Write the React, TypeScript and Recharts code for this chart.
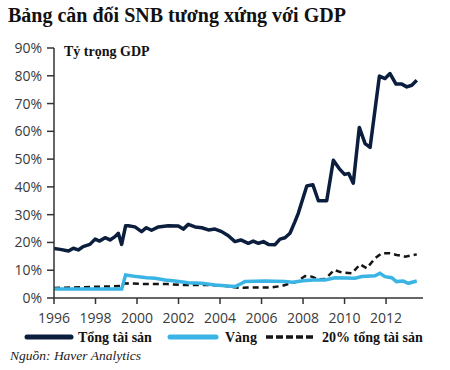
import { LineChart, Line, XAxis, YAxis } from "recharts";

const totalYears = [
  1996.0, 1996.3, 1996.7, 1996.93, 1997.17, 1997.4, 1997.73, 1997.98, 1998.2,
  1998.46, 1998.7, 1998.94, 1999.1, 1999.26, 1999.45, 1999.58, 1999.9, 2000.22,
  2000.45, 2000.7, 2001.03, 2001.5, 2001.99, 2002.23, 2002.47, 2002.8, 2003.12,
  2003.44, 2003.76, 2004.08, 2004.4, 2004.72, 2005.0, 2005.36, 2005.6, 2005.85,
  2006.09, 2006.33, 2006.65, 2006.89, 2007.13, 2007.37, 2007.61, 2007.77,
  2008.18, 2008.47, 2008.74, 2009.14, 2009.46, 2009.75, 2010.0, 2010.2, 2010.42,
  2010.71, 2010.99, 2011.23, 2011.68, 2011.95, 2012.19, 2012.48, 2012.76,
  2013.0, 2013.24, 2013.48,
];
const totalValues = [
  17.8, 17.5, 16.9, 17.9, 17.3, 18.5, 19.3, 21.2, 20.5, 21.7, 20.9, 22.1, 23.3,
  19.3, 26.0, 26.0, 25.6, 23.9, 25.3, 24.4, 25.6, 26.0, 25.9, 24.8, 26.5, 25.6,
  25.3, 24.5, 24.8, 23.9, 22.4, 20.3, 20.9, 19.7, 20.5, 19.7, 20.3, 19.3, 19.2,
  21.2, 21.7, 23.3, 27.5, 30.5, 40.3, 40.8, 35.0, 35.0, 49.6, 46.5, 44.5, 44.8,
  41.3, 61.4, 55.6, 54.2, 79.9, 79.0, 80.8, 77.0, 77.0, 76.0, 76.6, 78.4,
];

const goldYears = [
  1996.0, 1999.26, 1999.45, 1999.98, 2000.47, 2000.87, 2001.35, 2001.83,
  2002.47, 2003.12, 2003.76, 2004.4, 2004.72, 2005.05, 2005.2, 2006.17, 2007.13,
  2007.5, 2008.0, 2008.5, 2009.06, 2009.54, 2010.5, 2010.83, 2011.47, 2011.7,
  2011.95, 2012.27, 2012.5, 2012.83, 2013.07, 2013.48,
];
const goldValues = [
  3.2, 3.2, 8.3, 7.7, 7.3, 7.1, 6.5, 6.1, 5.5, 5.3, 4.7, 4.3, 4.1, 5.3, 5.9, 6.1,
  5.9, 5.7, 6.2, 6.5, 6.5, 7.3, 7.1, 7.7, 8.0, 8.9, 7.7, 7.3, 5.9, 6.1, 5.3, 6.1,
];

const shareYears = [
  1996.0, 1999.26, 1999.4, 2000.5, 2001.5, 2002.2, 2003.4, 2004.3, 2004.9,
  2005.5, 2006.5, 2007.0, 2007.7, 2008.1, 2008.42, 2008.74, 2009.06, 2009.5,
  2009.86, 2010.35, 2010.75, 2011.07, 2011.47, 2011.79, 2012.19, 2012.51,
  2012.92, 2013.48,
];
const shareValues = [
  3.6, 4.3, 5.3, 5.0, 5.0, 4.7, 4.7, 4.3, 3.7, 3.8, 3.8, 4.4, 5.9, 7.9, 7.7, 6.7,
  6.8, 10.1, 9.2, 8.9, 12.1, 10.7, 14.3, 16.1, 16.1, 15.5, 14.9, 15.7,
];

const xTicks = [1996, 1998, 2000, 2002, 2004, 2006, 2008, 2010, 2012];
const yTicks = [0, 10, 20, 30, 40, 50, 60, 70, 80, 90];

const zip = (years: number[], values: number[]) =>
  years.map((year, i) => ({ year, value: values[i] }));

const NAVY = "#0c1e3e";
const CYAN = "#3ab4e4";
const DASH = "#151515";
const serif = "'Liberation Serif', 'Times New Roman', serif";
const sans = "'Open Sans', sans-serif";

export default function App() {
  return (
    <div
      style={{
        position: "absolute",
        left: 0,
        top: 0,
        width: 450,
        height: 370,
        background: "#fff",
        overflow: "hidden",
      }}
    >
      <div
        style={{
          position: "absolute",
          left: 8,
          top: 4,
          fontFamily: serif,
          fontWeight: "bold",
          fontSize: 20,
          color: "#111",
          whiteSpace: "nowrap",
        }}
      >
        Bảng cân đối SNB tương xứng với GDP
      </div>
      <div
        style={{
          position: "absolute",
          left: 64,
          top: 44,
          fontFamily: serif,
          fontWeight: "bold",
          fontSize: 14,
          color: "#111",
          whiteSpace: "nowrap",
        }}
      >
        Tỷ trọng GDP
      </div>
      <LineChart
        width={450}
        height={370}
        margin={{ top: 48, right: 27, bottom: 42, left: 0 }}
      >
        <XAxis
          dataKey="year"
          type="number"
          domain={[1996, 2013.78]}
          ticks={xTicks}
          allowDataOverflow
          height={30}
          tickSize={6}
          tickMargin={9}
          stroke="#333"
          strokeWidth={1.5}
          tick={{ fill: "#3a3a3a", fontSize: 14, fontFamily: sans }}
        />
        <YAxis
          type="number"
          domain={[0, 90]}
          ticks={yTicks}
          width={54}
          tickSize={7}
          tickMargin={5}
          stroke="#333"
          strokeWidth={1.5}
          tickFormatter={(v: number) => `${v}%`}
          tick={{ fill: "#3a3a3a", fontSize: 14, fontFamily: sans }}
        />
        <Line
          data={zip(shareYears, shareValues)}
          dataKey="value"
          type="linear"
          stroke={DASH}
          strokeWidth={2.5}
          strokeDasharray="6 4"
          dot={false}
          isAnimationActive={false}
        />
        <Line
          data={zip(goldYears, goldValues)}
          dataKey="value"
          type="linear"
          stroke={CYAN}
          strokeWidth={3.5}
          dot={false}
          isAnimationActive={false}
        />
        <Line
          data={zip(totalYears, totalValues)}
          dataKey="value"
          type="linear"
          stroke={NAVY}
          strokeWidth={3.5}
          strokeLinejoin="round"
          dot={false}
          isAnimationActive={false}
        />
      </LineChart>
      <svg
        width={450}
        height={30}
        style={{ position: "absolute", left: 0, top: 323 }}
      >
        <line x1={27} y1={14} x2={71} y2={14} stroke={NAVY} strokeWidth={5} strokeLinecap="round" />
        <text x={78} y={19} fontFamily={serif} fontWeight="bold" fontSize={14} fill="#111">
          Tổng tài sản
        </text>
        <line x1={170} y1={14} x2={216} y2={14} stroke={CYAN} strokeWidth={5} strokeLinecap="round" />
        <text x={225} y={19} fontFamily={serif} fontWeight="bold" fontSize={14} fill="#111">
          Vàng
        </text>
        <line x1={266} y1={14} x2={315} y2={14} stroke={DASH} strokeWidth={3.5} strokeDasharray="7 3" />
        <text x={322} y={19} fontFamily={serif} fontWeight="bold" fontSize={14} fill="#111">
          20% tổng tài sản
        </text>
      </svg>
      <div
        style={{
          position: "absolute",
          left: 10,
          top: 348,
          fontFamily: serif,
          fontStyle: "italic",
          fontSize: 13.5,
          color: "#222",
          whiteSpace: "nowrap",
        }}
      >
        Nguồn: Haver Analytics
      </div>
    </div>
  );
}
